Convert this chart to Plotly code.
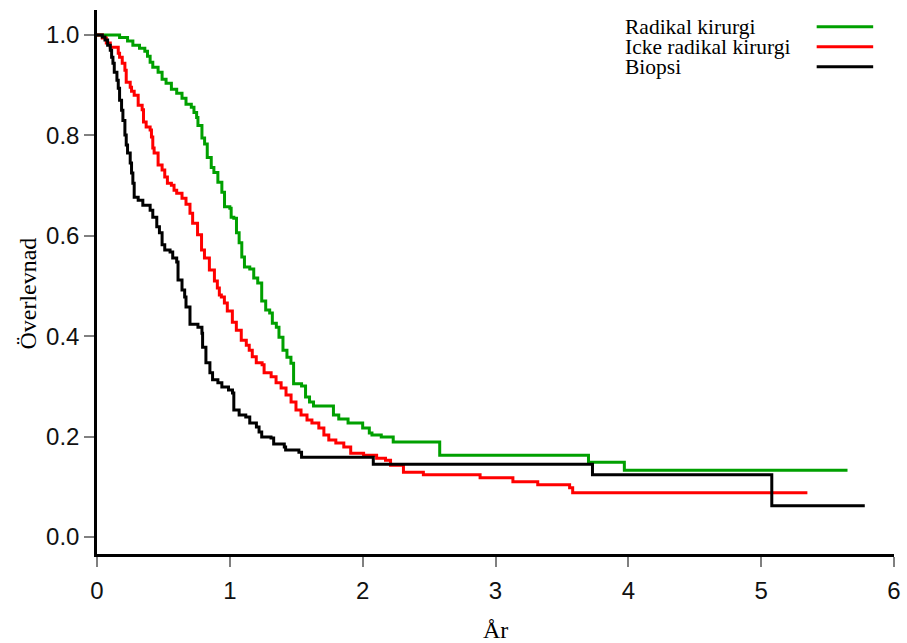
import plotly.graph_objects as go

# Kaplan-Meier survival estimates per treatment group (time in years)
radikal_t = [0, 0.17, 0.23, 0.27, 0.32, 0.36, 0.38, 0.40, 0.42, 0.46, 0.49, 0.52, 0.56, 0.60, 0.64,
             0.67, 0.71, 0.73, 0.75, 0.76, 0.79, 0.81, 0.83, 0.86, 0.88, 0.91, 0.94, 0.96, 1.00, 1.01,
             1.03, 1.05, 1.07, 1.09, 1.11, 1.15, 1.18, 1.21, 1.24, 1.27, 1.30, 1.32, 1.35, 1.37, 1.40,
             1.43, 1.46, 1.48, 1.54, 1.57, 1.60, 1.63, 1.78, 1.82, 1.89, 2.00, 2.05, 2.07, 2.14, 2.23,
             2.58, 3.70, 3.97, 5.65]
radikal_s = [1.000, 0.995, 0.988, 0.980, 0.974, 0.968, 0.958, 0.946, 0.936, 0.926, 0.912, 0.904, 0.892,
             0.884, 0.874, 0.862, 0.856, 0.846, 0.836, 0.820, 0.795, 0.783, 0.756, 0.736, 0.726, 0.707,
             0.687, 0.658, 0.655, 0.637, 0.635, 0.606, 0.586, 0.558, 0.538, 0.534, 0.516, 0.506, 0.470,
             0.452, 0.446, 0.426, 0.418, 0.398, 0.372, 0.358, 0.346, 0.305, 0.301, 0.279, 0.269, 0.261,
             0.243, 0.235, 0.227, 0.217, 0.207, 0.203, 0.199, 0.189, 0.163, 0.149, 0.133, 0.133]

icke_t = [0, 0.04, 0.07, 0.10, 0.16, 0.17, 0.19, 0.21, 0.22, 0.25, 0.26, 0.28, 0.31, 0.34, 0.35, 0.37,
          0.40, 0.41, 0.42, 0.43, 0.46, 0.49, 0.51, 0.53, 0.56, 0.58, 0.60, 0.64, 0.67, 0.70, 0.72, 0.757,
          0.787, 0.809, 0.846, 0.884, 0.906, 0.921, 0.936, 0.959, 0.981, 1.019, 1.049, 1.086, 1.124,
          1.146, 1.169, 1.199, 1.243, 1.258, 1.311, 1.348, 1.386, 1.423, 1.461, 1.498, 1.536, 1.581,
          1.618, 1.670, 1.708, 1.745, 1.798, 1.858, 1.910, 2.007, 2.105, 2.172, 2.210, 2.307, 2.457,
          2.884, 3.131, 3.318, 3.558, 3.581, 5.348]
icke_s = [1.0, 0.994, 0.984, 0.976, 0.964, 0.956, 0.944, 0.930, 0.906, 0.896, 0.888, 0.880, 0.860, 0.851,
          0.827, 0.817, 0.811, 0.797, 0.775, 0.765, 0.741, 0.731, 0.717, 0.705, 0.701, 0.691, 0.685,
          0.675, 0.663, 0.645, 0.625, 0.602, 0.572, 0.556, 0.532, 0.510, 0.496, 0.482, 0.478, 0.466,
          0.450, 0.428, 0.412, 0.392, 0.382, 0.372, 0.359, 0.347, 0.343, 0.327, 0.319, 0.307, 0.297,
          0.283, 0.269, 0.253, 0.243, 0.233, 0.227, 0.217, 0.203, 0.193, 0.187, 0.179, 0.167, 0.163,
          0.157, 0.153, 0.143, 0.129, 0.124, 0.118, 0.110, 0.104, 0.098, 0.088, 0.088]

biopsi_t = [0, 0.04, 0.06, 0.08, 0.10, 0.11, 0.12, 0.13, 0.15, 0.16, 0.17, 0.185, 0.195, 0.21, 0.22,
            0.23, 0.25, 0.26, 0.27, 0.28, 0.31, 0.345, 0.40, 0.42, 0.45, 0.47, 0.49, 0.51, 0.55, 0.57,
            0.60, 0.61, 0.64, 0.66, 0.67, 0.70, 0.76, 0.79, 0.795, 0.82, 0.85, 0.87, 0.91, 0.94, 0.99,
            1.02, 1.03, 1.07, 1.12, 1.15, 1.20, 1.22, 1.24, 1.31, 1.33, 1.41, 1.42, 1.52, 1.54, 2.08,
            3.73, 5.08, 5.78]
biopsi_s = [1.0, 0.996, 0.990, 0.980, 0.970, 0.956, 0.944, 0.926, 0.910, 0.894, 0.870, 0.850, 0.830,
            0.801, 0.781, 0.765, 0.745, 0.725, 0.705, 0.677, 0.671, 0.661, 0.651, 0.637, 0.618, 0.606,
            0.582, 0.572, 0.568, 0.556, 0.548, 0.512, 0.492, 0.478, 0.458, 0.424, 0.418, 0.406, 0.378,
            0.347, 0.327, 0.313, 0.307, 0.299, 0.293, 0.287, 0.253, 0.243, 0.239, 0.227, 0.219, 0.209,
            0.199, 0.197, 0.185, 0.179, 0.173, 0.169, 0.159, 0.145, 0.124, 0.062, 0.062]

group_names = ["Radikal kirurgi", "Icke radikal kirurgi", "Biopsi"]
group_colors = ["#00A000", "#FF0000", "#000000"]
x_ticks = [0, 1, 2, 3, 4, 5, 6]
y_ticks = [0.0, 0.2, 0.4, 0.6, 0.8, 1.0]
x_title = "År"
y_title = "Överlevnad"

SANS = "Liberation Sans, Arial, sans-serif"
SERIF = "Liberation Serif, Times New Roman, serif"

fig = go.Figure()
series = [(radikal_t, radikal_s), (icke_t, icke_s), (biopsi_t, biopsi_s)]
for (t, s), name, col in zip(series, group_names, group_colors):
    fig.add_trace(go.Scatter(x=t, y=s, mode="lines", name=name,
                             line=dict(color=col, width=3, shape="hv"),
                             showlegend=False, hoverinfo="skip"))

axis_common = dict(showgrid=False, zeroline=False, showline=True, linecolor="black",
                   linewidth=2.5, ticks="outside", ticklen=10, tickwidth=1.5,
                   tickcolor="#808080", ticklabeloverflow="allow",
                   tickfont=dict(family=SANS, size=24, color="#111111"))

fig.update_xaxes(range=[0, 6], tickvals=x_ticks, ticktext=[str(v) for v in x_ticks],
                 ticklabelstandoff=3, **axis_common)
fig.update_yaxes(range=[-0.034, 1.05], tickvals=y_ticks,
                 ticktext=[f"{v:.1f}" for v in y_ticks], **axis_common)

# plot area spans 97..901 px horizontally, 10..554 px vertically
PW = 907 - 97 - 6
annotations = [
    dict(text=x_title, xref="paper", yref="paper", x=0.5, y=-0.1397, xanchor="center",
         yanchor="middle", showarrow=False, font=dict(family=SERIF, size=24, color="black")),
    dict(text=y_title, xref="paper", yref="paper", x=(27 - 97) / PW, y=0.478, xanchor="center",
         yanchor="middle", textangle=-90, showarrow=False,
         font=dict(family=SERIF, size=24, color="black")),
]
shapes = []
# legend drawn with text on the left and line sample on the right
legend_rows_y = [0.9693, 0.9325, 0.8958]
for name, col, ly in zip(group_names, group_colors, legend_rows_y):
    annotations.append(dict(text=name, xref="paper", yref="paper", x=(628 - 97) / PW, y=ly,
                            xanchor="left", yanchor="middle", showarrow=False,
                            font=dict(family=SERIF, size=21.5, color="black")))
    shapes.append(dict(type="line", xref="paper", yref="paper", x0=(823 - 97) / PW,
                       x1=(880 - 97) / PW, y0=ly, y1=ly, line=dict(color=col, width=3)))

fig.update_layout(
    width=907, height=643, autosize=False,
    margin=dict(l=97, r=6, t=10, b=89),
    paper_bgcolor="white", plot_bgcolor="white",
    annotations=annotations, shapes=shapes,
)

fig.write_html("out.html")
